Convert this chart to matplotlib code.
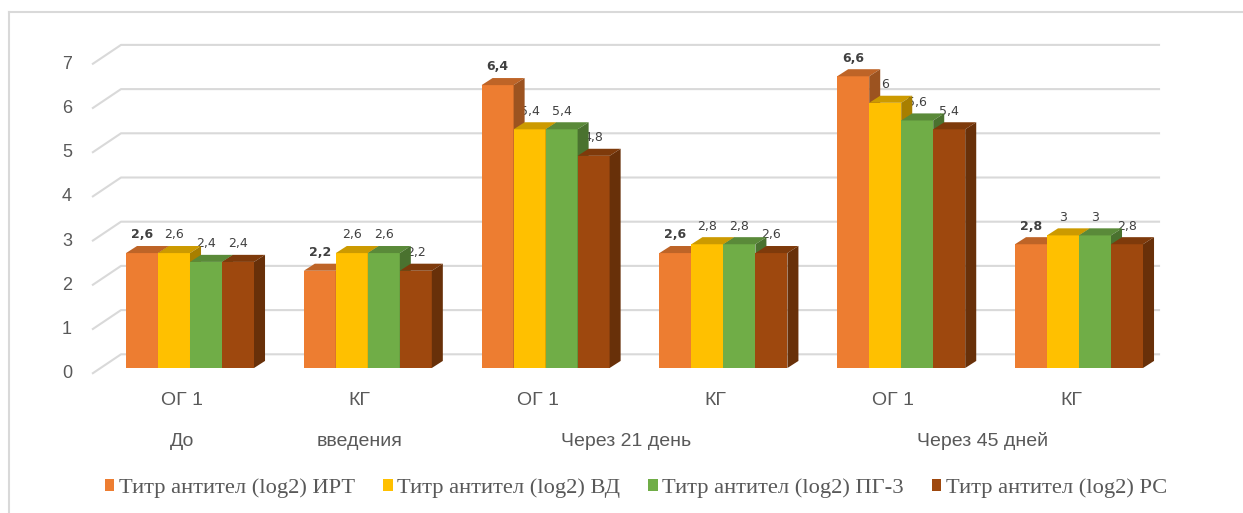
import matplotlib
matplotlib.use("Agg")
import matplotlib.pyplot as plt
from matplotlib.patches import Polygon, Patch
import matplotlib.colors as mcolors

# Data
groups = ["ОГ 1", "КГ", "ОГ 1", "КГ", "ОГ 1", "КГ"]
periods = ["До", "введения", "Через 21 день", "Через 45 дней"]
period_groups = [(0, 0), (1, 1), (2, 3), (4, 5)]
series_names = [
    "Титр антител (log2) ИРТ",
    "Титр антител (log2) ВД",
    "Титр антител (log2) ПГ-3",
    "Титр антител (log2) РС",
]
irt = [2.6, 2.2, 6.4, 2.6, 6.6, 2.8]
vd = [2.6, 2.6, 5.4, 2.8, 6.0, 3.0]
pg3 = [2.4, 2.6, 5.4, 2.8, 5.6, 3.0]
rs = [2.4, 2.2, 4.8, 2.6, 5.4, 2.8]
yticks = [0, 1, 2, 3, 4, 5, 6, 7]

series = [irt, vd, pg3, rs]
colors = ["#ED7D31", "#FFC000", "#70AD47", "#9E480E"]

# pseudo-3d geometry (data units)
bar_w = 0.18
depth_x = 0.062
depth_y = 0.16
wall_dx = 0.163
wall_lo = -0.13
wall_hi = 0.31


def shade(c, k):
    r, g, b = mcolors.to_rgb(c)
    return (r * k, g * k, b * k)


def fmt(v):
    return f"{v:g}".replace(".", ",")


fig = plt.figure(figsize=(12.43, 5.13), dpi=100)
ax = fig.add_axes([0, 0, 1, 1])
ax.set_xlim(-1.0686, 5.9224)
ax.set_ylim(-3.2805, 8.3258)
ax.axis("off")

# chart border
ax.plot([-1.0180, 5.95], [8.054, 8.054], color="#D9D9D9", lw=1.5, clip_on=False)
ax.plot([-1.0180, -1.0180], [8.054, -3.5], color="#D9D9D9", lw=1.5, clip_on=False)

# back wall gridlines with slanted left wall
x_wall = -0.551
x_back = x_wall + wall_dx
x_end = 5.456
for t in yticks:
    ax.plot([x_wall, x_back, x_end], [t + wall_lo, t + wall_hi, t + wall_hi],
            color="#D9D9D9", lw=1.5, zorder=1, solid_capstyle="butt")
    ax.text(x_wall - 0.141, t + wall_lo, str(t), ha="center", va="center",
            fontsize=13, color="#595959", family="Liberation Sans")

# bars
offsets = [(i - 1.5) * bar_w for i in range(4)]
for g in range(len(groups)):
    for s, vals in enumerate(series):
        v = vals[g]
        x0 = g + offsets[s] - bar_w / 2
        x1 = x0 + bar_w
        c = colors[s]
        ax.bar(x0, v, width=bar_w, align="edge", color=c, edgecolor="none", zorder=3)
        top = Polygon([(x0, v), (x1, v), (x1 + depth_x, v + depth_y), (x0 + depth_x, v + depth_y)],
                      closed=True, facecolor=shade(c, 0.8), edgecolor="none", zorder=3)
        side = Polygon([(x1, 0), (x1, v), (x1 + depth_x, v + depth_y), (x1 + depth_x, depth_y)],
                       closed=True, facecolor=shade(c, 0.66), edgecolor="none", zorder=3)
        ax.add_patch(top)
        ax.add_patch(side)
        ax.text(x0 + bar_w / 2, v + 0.41, fmt(v), ha="center", va="center",
                fontsize=9, color="#404040", zorder=2.5,
                fontweight="bold" if s == 0 else "normal")

# category labels
for g, name in enumerate(groups):
    ax.text(g - 0.045, -0.73, name, ha="center", va="center",
            fontsize=14, color="#595959", family="Liberation Sans")
for name, (a, b) in zip(periods, period_groups):
    ax.text((a + b) / 2 - 0.045, -1.66, name, ha="center", va="center",
            fontsize=14, color="#595959", family="Liberation Sans")

# legend
handles = [Patch(facecolor=c, edgecolor="none") for c in colors]
fig.legend(handles, series_names, loc="center", bbox_to_anchor=(636 / 1243, 25 / 513),
           ncol=4, frameon=False, handlelength=0.42, handleheight=0.42, handletextpad=0.2,
           columnspacing=1.25, prop={"family": "Liberation Serif", "size": 16.2},
           labelcolor="#595959")

fig.savefig("out.png", dpi=100)
